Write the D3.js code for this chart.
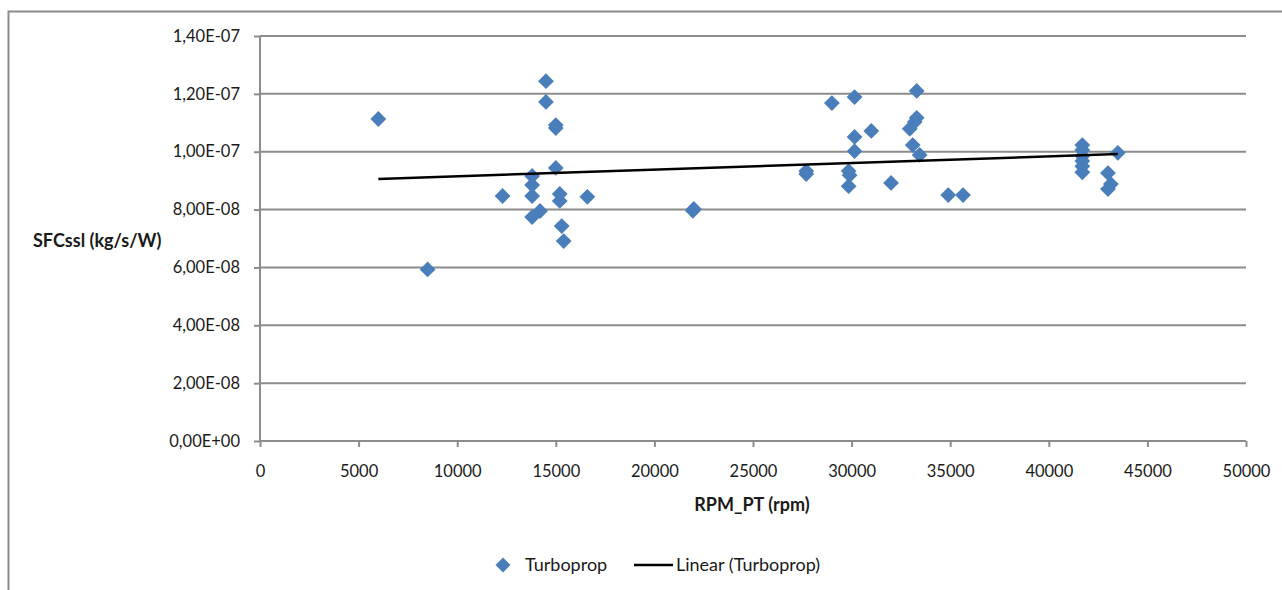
<!DOCTYPE html>
<html>
<head>
<meta charset="utf-8">
<script src="https://cdn.jsdelivr.net/npm/d3@7"></script>
<style>
  html, body { margin: 0; padding: 0; background: #fff; }
  svg { display: block; }
  text { font-family: Lato, "Open Sans", "Liberation Sans", sans-serif; fill: #1a1a1a; }
</style>
</head>
<body>
<svg id="chart" width="1282" height="590"></svg>
<script>
// Turboprop engines: power-turbine speed vs. sea-level specific fuel consumption
const rpmPT = [
  6000, 8500, 12300,
  13800, 13800, 13800, 13800, 14200,
  14500, 14500,
  15000, 15000, 15000,
  15200, 15200, 15300, 15400, 16600,
  22000, 21950,
  27700, 27700, 29000,
  30150, 30150, 30150, 29850, 29900, 29850, 31000, 32000,
  33300, 33300, 33200, 32950, 33100, 33450,
  34900, 35650,
  41700, 41700, 41700, 41700, 41700, 41700,
  43500, 43000, 43150, 43000
];
const sfcSSL = [
  1.113e-7, 5.93e-8, 8.47e-8,
  9.16e-8, 8.85e-8, 8.47e-8, 7.74e-8, 7.95e-8,
  1.244e-7, 1.172e-7,
  1.092e-7, 1.082e-7, 9.44e-8,
  8.54e-8, 8.30e-8, 7.43e-8, 6.91e-8, 8.44e-8,
  8.02e-8, 7.96e-8,
  9.33e-8, 9.23e-8, 1.168e-7,
  1.189e-7, 1.051e-7, 1.002e-7, 9.33e-8, 9.19e-8, 8.81e-8, 1.072e-7, 8.92e-8,
  1.210e-7, 1.117e-7, 1.103e-7, 1.079e-7, 1.023e-7, 9.89e-8,
  8.50e-8, 8.50e-8,
  1.023e-7, 1.006e-7, 9.85e-8, 9.68e-8, 9.50e-8, 9.29e-8,
  9.96e-8, 9.26e-8, 8.88e-8, 8.71e-8
];
// Linear trendline end points (Linear (Turboprop))
const trendRpm = [6000, 43500];
const trendSfc = [9.06e-8, 9.92e-8];

const xTicks = [0, 5000, 10000, 15000, 20000, 25000, 30000, 35000, 40000, 45000, 50000];
const yTicks = [0, 2e-8, 4e-8, 6e-8, 8e-8, 1e-7, 1.2e-7, 1.4e-7];
const seriesName = "Turboprop";
const trendName = "Linear (Turboprop)";
const xTitle = "RPM_PT (rpm)";
const yTitle = "SFCssl (kg/s/W)";

const points = rpmPT.map((r, i) => ({ x: r, y: sfcSSL[i] }));
const trend = trendRpm.map((r, i) => ({ x: r, y: trendSfc[i] }));

const svg = d3.select("#chart");
const plot = { left: 260, right: 1246, top: 36, bottom: 441 };

const x = d3.scaleLinear().domain([0, 50000]).range([plot.left, plot.right]);
const y = d3.scaleLinear().domain([0, 1.4e-7]).range([plot.bottom, plot.top]);

const gridColor = "#8c8c8c";
const tickFont = "16.5px";
const titleFont = "18px";

// Outer chart frame (runs off the right and bottom edges)
svg.append("path")
  .attr("d", "M8.5,600 V11.5 H1300")
  .attr("fill", "none")
  .attr("stroke", gridColor)
  .attr("stroke-width", 2);

// Scientific labels with a comma decimal separator
function sci(v) {
  if (v === 0) return "0,00E+00";
  const exp = Math.floor(Math.log10(Math.abs(v)) + 1e-9);
  const mant = v / Math.pow(10, exp);
  const sign = exp < 0 ? "-" : "+";
  const e = String(Math.abs(exp)).padStart(2, "0");
  return mant.toFixed(2).replace(".", ",") + "E" + sign + e;
}

// Horizontal gridlines
svg.append("g")
  .selectAll("line")
  .data(yTicks.filter(t => t > 0))
  .join("line")
  .attr("x1", plot.left).attr("x2", plot.right)
  .attr("y1", d => y(d)).attr("y2", d => y(d))
  .attr("stroke", gridColor).attr("stroke-width", 2);

// Y axis
const yAxis = svg.append("g")
  .attr("transform", `translate(${plot.left},0)`)
  .call(d3.axisLeft(y).tickValues(yTicks).tickFormat(sci).tickSize(6).tickPadding(14));
yAxis.select(".domain").attr("stroke", gridColor).attr("stroke-width", 2)
  .attr("d", `M0,${plot.top}V${plot.bottom}`);
yAxis.selectAll(".tick line").attr("stroke", gridColor).attr("stroke-width", 2);
yAxis.selectAll(".tick text").style("font-size", tickFont).attr("fill", "#1a1a1a");

// X axis
const xAxis = svg.append("g")
  .attr("transform", `translate(0,${plot.bottom})`)
  .call(d3.axisBottom(x).tickValues(xTicks).tickFormat(d3.format("d")).tickSize(6).tickPadding(18));
xAxis.select(".domain").attr("stroke", gridColor).attr("stroke-width", 2)
  .attr("d", `M${plot.left},0H${plot.right}`);
xAxis.selectAll(".tick line").attr("stroke", gridColor).attr("stroke-width", 2);
xAxis.selectAll(".tick text").style("font-size", tickFont).attr("fill", "#1a1a1a");

// Axis titles
svg.append("text")
  .attr("x", 33).attr("y", 247)
  .style("font-size", titleFont).style("font-weight", "bold")
  .text(yTitle);
svg.append("text")
  .attr("x", 752).attr("y", 511)
  .attr("text-anchor", "middle")
  .style("font-size", titleFont).style("font-weight", "bold")
  .text(xTitle);

// Markers: diamonds (rotated squares)
const diamond = d3.symbol().type(d3.symbolSquare).size(125);
const markerColor = "#4a7ebb";
svg.append("g")
  .selectAll("path")
  .data(points)
  .join("path")
  .attr("d", diamond)
  .attr("transform", d => `translate(${x(d.x)},${y(d.y)}) rotate(45)`)
  .attr("fill", markerColor);

// Linear trendline
svg.append("path")
  .datum(trend)
  .attr("d", d3.line().x(d => x(d.x)).y(d => y(d.y)))
  .attr("fill", "none")
  .attr("stroke", "#000")
  .attr("stroke-width", 2.5);

// Legend
const legend = svg.append("g").attr("transform", "translate(0,565)");
legend.append("path")
  .attr("d", d3.symbol().type(d3.symbolSquare).size(112))
  .attr("transform", "translate(503,0) rotate(45)")
  .attr("fill", markerColor);
legend.append("text")
  .attr("x", 525).attr("y", 6)
  .style("font-size", titleFont)
  .text(seriesName);
legend.append("line")
  .attr("x1", 634).attr("x2", 673).attr("y1", 0).attr("y2", 0)
  .attr("stroke", "#000").attr("stroke-width", 2.5);
legend.append("text")
  .attr("x", 676).attr("y", 6)
  .style("font-size", titleFont)
  .text(trendName);
</script>
</body>
</html>
